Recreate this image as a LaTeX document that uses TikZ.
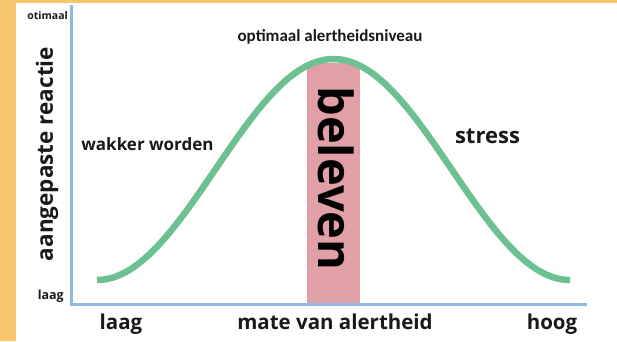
\documentclass[tikz,border=0pt]{standalone}
\usepackage{fontspec}
\setmainfont{Open Sans}
\newfontfamily\carlito{Carlito}
\definecolor{bgorange}{HTML}{F7C56C}
\definecolor{curvegreen}{HTML}{6CC091}
\definecolor{bandpink}{HTML}{E0A0A6}
\definecolor{axisblue}{HTML}{8EB8E5}
\newcommand{\fsz}[1]{\fontsize{#1}{#1}\selectfont}
\tikzset{
  lbl/.style={inner sep=0pt, font=\bfseries, text=black!90},
  axisline/.style={draw=axisblue, line width=3pt},
  bellcurve/.style={draw=curvegreen, line width=6.5pt},
  band/.style={fill=bandpink, draw=none},
}
\begin{document}
\begin{tikzpicture}[x=1pt,y=-1pt]
\useasboundingbox (0,0) rectangle (617,341);
\fill[bgorange] (0,0) rectangle (617,341);
\fill[white] (16,3) rectangle (617,341);
% band
\path[band] (307,63) rectangle (360,304);
\node[lbl, rotate=-90, anchor=base, text=black] (bel) at (318,178.5) {\fsz{47}beleven};
% axes
\coordinate (ytop) at (71,5);
\coordinate (origin) at (71,304);
\coordinate (xend) at (587,304);
\draw[axisline] (ytop) -- (origin) -- (xend);
% curve
\draw[bellcurve] plot[domain=97:570, samples=120, smooth] ({\x},{59+110.5*(1-cos(0.7611*(\x-333.5)))});
% labels
\node[lbl, anchor=east] (ytoplbl) at (68,16) {\fsz{10.5}otimaal};
\node[lbl, anchor=east] (ylowlbl) at (64,296) {\fsz{12.5}laag};
\node[lbl, rotate=90] (ylbl) at (47,154) {\fsz{22.5}aangepaste reactie};
\node[lbl, anchor=base] (xlow) at (121,329.5) {\fsz{20.5}laag};
\node[lbl, anchor=base] (xlbl) at (335,329.5) {\fsz{20.5}mate van alertheid};
\node[lbl, anchor=base] (xhigh) at (552,329.5) {\fsz{20.5}hoog};
\node[lbl, anchor=base] (opt) at (330,41) {\carlito\bfseries\fsz{17}optimaal alertheidsniveau};
\node[lbl, anchor=base] (wak) at (147.5,150) {\fsz{17}wakker worden};
\node[lbl, anchor=base] (str) at (487.5,143) {\fsz{22}stress};
\end{tikzpicture}
\end{document}
